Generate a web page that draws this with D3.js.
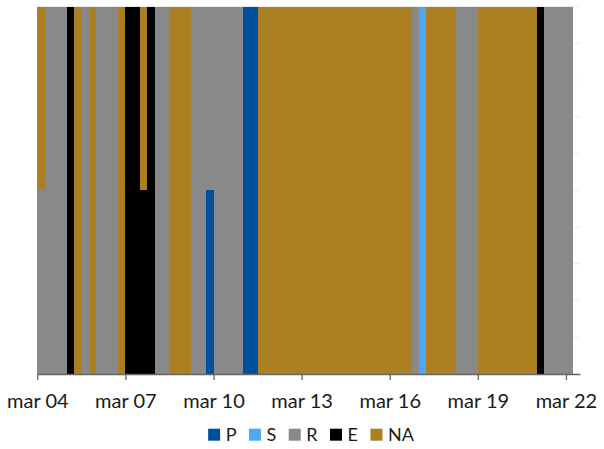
<!DOCTYPE html>
<html>
<head>
<meta charset="utf-8">
<script src="https://cdn.jsdelivr.net/npm/d3@7"></script>
<style>
  html, body { margin: 0; padding: 0; background: #fff; }
  svg { display: block; }
</style>
</head>
<body>
<svg id="chart" width="604" height="449"></svg>
<script>
// ---- data (6-hour slots starting 2024-03-04 00:00) ----
const seriesNames = ["P", "S", "R", "E", "NA"];
const seriesColors = ["#004f9c", "#4ea9f5", "#898989", "#000000", "#ab8023"];

const P = [
  0,0,0,0,0,0,0,0,0,0,
  0,0,0,0,0,0,0,0,0,0,
  0,0,0,0.5,0,0,0,0,1,1,
  0,0,0,0,0,0,0,0,0,0,
  0,0,0,0,0,0,0,0,0,0,
  0,0,0,0,0,0,0,0,0,0,
  0,0,0,0,0,0,0,0,0,0,
  0,0,0];
const S = [
  0,0,0,0,0,0,0,0,0,0,
  0,0,0,0,0,0,0,0,0,0,
  0,0,0,0,0,0,0,0,0,0,
  0,0,0,0,0,0,0,0,0,0,
  0,0,0,0,0,0,0,0,0,0,
  0,0,1,0,0,0,0,0,0,0,
  0,0,0,0,0,0,0,0,0,0,
  0,0,0];
const R = [
  0.5,1,1,1,0,0,1,0,1,1,
  1,0,0,0,0,0,1,1,0,0,
  0,1,1,0.5,1,1,1,1,0,0,
  0,0,0,0,0,0,0,0,0,0,
  0,0,0,0,0,0,0,0,0,0,
  0,1,0,0,0,0,0,1,1,1,
  0,0,0,0,0,0,0,0,0,1,
  1,1,1];
const E = [
  0,0,0,0,1,0,0,0,0,0,
  0,0,1,1,0.5,1,0,0,0,0,
  0,0,0,0,0,0,0,0,0,0,
  0,0,0,0,0,0,0,0,0,0,
  0,0,0,0,0,0,0,0,0,0,
  0,0,0,0,0,0,0,0,0,0,
  0,0,0,0,0,0,0,0,1,0,
  0,0,0];
const NA = [
  0.5,0,0,0,0,1,0,1,0,0,
  0,1,0,0,0.5,0,0,0,1,1,
  1,0,0,0,0,0,0,0,0,0,
  1,1,1,1,1,1,1,1,1,1,
  1,1,1,1,1,1,1,1,1,1,
  1,0,0,1,1,1,1,0,0,0,
  1,1,1,1,1,1,1,1,0,0,
  0,0,0];

const startDate = "2024-03-04T00:00";
const slotHours = 6;
const domainEnd = "2024-03-22T11:30";
const tickDates = ["2024-03-04", "2024-03-07", "2024-03-10", "2024-03-13", "2024-03-16", "2024-03-19", "2024-03-22"];
const tickLabels = ["mar 04", "mar 07", "mar 10", "mar 13", "mar 16", "mar 19", "mar 22"];

// ---- build table ----
const parseT = d3.timeParse("%Y-%m-%dT%H:%M");
const parseD = d3.timeParse("%Y-%m-%d");
const t0 = parseT(startDate);
const seriesValues = [P, S, R, E, NA];
const table = P.map((_, i) => {
  const row = { date: d3.timeHour.offset(t0, i * slotHours) };
  seriesNames.forEach((n, k) => row[n] = seriesValues[k][i]);
  return row;
});

// ---- layout ----
const svg = d3.select("#chart");
const mLeft = 37.3, mRight = 580, mTop = 6.5, mBottom = 374;

const x = d3.scaleTime().domain([t0, parseT(domainEnd)]).range([mLeft, mRight]);
const y = d3.scaleLinear().domain([0, 1]).range([mBottom, mTop]);
const color = d3.scaleOrdinal().domain(seriesNames).range(seriesColors);

// gridlines
svg.append("g")
  .selectAll("line")
  .data(y.ticks(10))
  .join("line")
  .attr("x1", mLeft).attr("x2", mRight)
  .attr("y1", d => y(d)).attr("y2", d => y(d))
  .attr("stroke", "#ebebeb")
  .attr("stroke-width", 1);

// stacked bars
const stack = d3.stack().keys(seriesNames)(table);
svg.append("g")
  .attr("shape-rendering", "crispEdges")
  .selectAll("g")
  .data(stack)
  .join("g")
  .attr("fill", d => color(d.key))
  .selectAll("rect")
  .data(d => d.filter(s => s[1] - s[0] > 0))
  .join("rect")
  .attr("x", d => x(d.data.date))
  .attr("width", d => x(d3.timeHour.offset(d.data.date, slotHours)) - x(d.data.date))
  .attr("y", d => y(d[1]))
  .attr("height", d => y(d[0]) - y(d[1]));

// x axis
const tickVals = tickDates.map(parseD);
const axis = d3.axisBottom(x)
  .tickValues(tickVals)
  .tickFormat((d, i) => tickLabels[i])
  .tickSize(6)
  .tickSizeOuter(0)
  .tickPadding(14);
const gx = svg.append("g")
  .attr("transform", `translate(0,${mBottom})`)
  .call(axis);
gx.select(".domain").attr("stroke", "#666").attr("stroke-width", 1.3);
gx.selectAll(".tick line").attr("stroke", "#666").attr("stroke-width", 1.3);
gx.selectAll("text")
  .attr("fill", "#1a1a1a")
  .style("font-family", "Lato, 'Liberation Sans', sans-serif")
  .style("font-size", "20px");

// legend
const legend = svg.append("g");
const sq = 12, gapText = 5.5, gapItem = 12.5;
let cx = 0;
seriesNames.forEach(n => {
  const g = legend.append("g");
  g.append("rect").attr("width", sq).attr("height", sq).attr("y", -sq).attr("fill", color(n));
  const t = g.append("text")
    .attr("x", sq + gapText)
    .attr("y", 0)
    .attr("fill", "#1a1a1a")
    .style("font-family", "Lato, 'Liberation Sans', sans-serif")
    .style("font-size", "18px")
    .text(n);
  const w = t.node().getComputedTextLength();
  g.attr("transform", `translate(${cx},0)`);
  cx += sq + gapText + w + gapItem;
});
const totalW = cx - gapItem;
legend.attr("transform", `translate(${311 - totalW / 2},440.7)`);
</script>
</body>
</html>
